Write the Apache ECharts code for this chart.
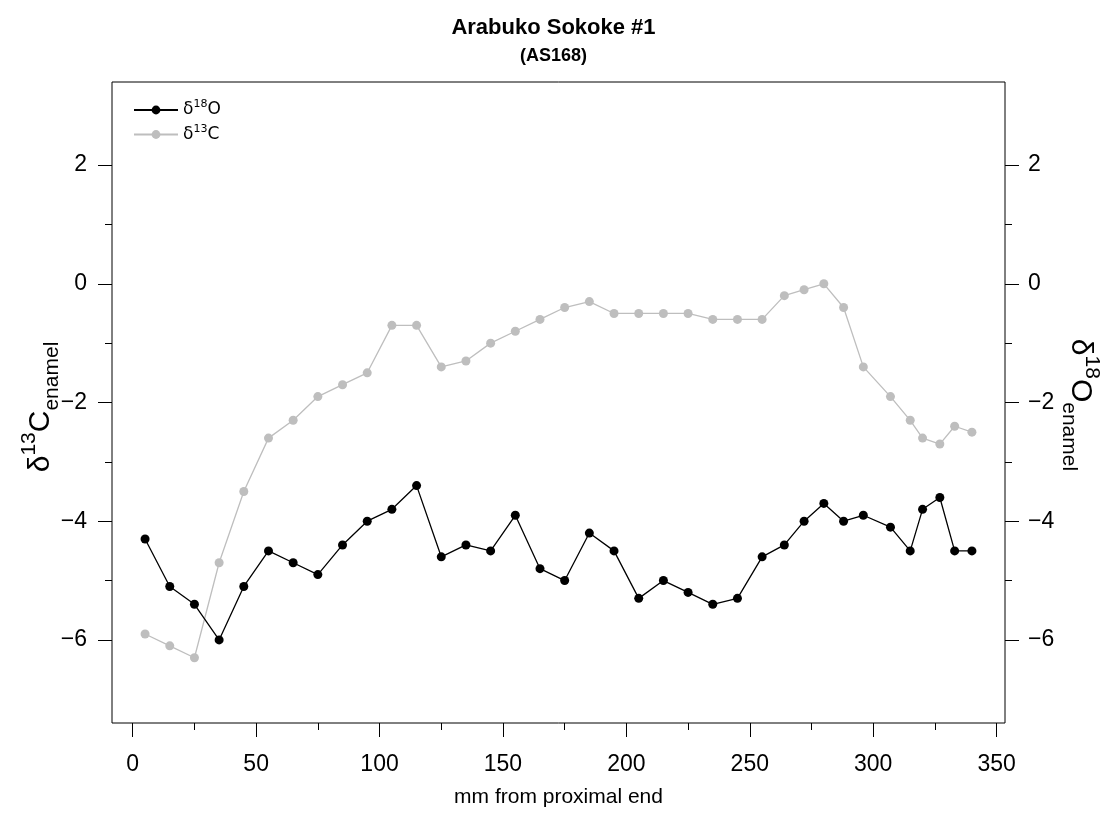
<!DOCTYPE html>
<html>
<head>
<meta charset="utf-8">
<title>Arabuko Sokoke #1 (AS168)</title>
<script src="https://cdn.jsdelivr.net/npm/echarts@6/dist/echarts.min.js"></script>
<style>
  html, body { margin: 0; padding: 0; background: #fff; }
  #chart { width: 1107px; height: 813px; }
</style>
</head>
<body>
<div id="chart"></div>
<script>
// Sampling positions along the tooth (mm from proximal end)
const positionsMm = [5, 15, 25, 35, 45, 55, 65, 75, 85, 95, 105, 115, 125, 135, 145, 155, 165,
  175, 185, 195, 205, 215, 225, 235, 245, 255, 264, 272, 280, 288, 296, 307, 315, 320, 327, 333, 340];

// Oxygen isotope values of the enamel
const d18O = [-4.3, -5.1, -5.4, -6.0, -5.1, -4.5, -4.7, -4.9, -4.4, -4.0, -3.8, -3.4, -4.6, -4.4,
  -4.5, -3.9, -4.8, -5.0, -4.2, -4.5, -5.3, -5.0, -5.2, -5.4, -5.3, -4.6, -4.4, -4.0, -3.7, -4.0,
  -3.9, -4.1, -4.5, -3.8, -3.6, -4.5, -4.5];

// Carbon isotope values of the enamel
const d13C = [-5.9, -6.1, -6.3, -4.7, -3.5, -2.6, -2.3, -1.9, -1.7, -1.5, -0.7, -0.7, -1.4, -1.3,
  -1.0, -0.8, -0.6, -0.4, -0.3, -0.5, -0.5, -0.5, -0.5, -0.6, -0.6, -0.6, -0.2, -0.1, 0.0, -0.4,
  -1.4, -1.9, -2.3, -2.6, -2.7, -2.4, -2.5];

// Axis tick positions
const xMajorTicks = [0, 50, 100, 150, 200, 250, 300, 350];
const xMinorTicks = [25, 75, 125, 175, 225, 275, 325];
const yMajorTicks = [-6, -4, -2, 0, 2];
const yMinorTicks = [-5, -3, -1, 1];

const xRange = [-8.4, 353.4];
const yRange = [-7.4, 3.4];

const FONT = '"Liberation Sans", Arial, Helvetica, sans-serif';
const LEGEND_FONT = '"DejaVu Sans", "Open Sans", sans-serif';
const minus = v => String(v).replace('-', '\u2212');
const pairs = vals => positionsMm.map((x, i) => [x, vals[i]]);

const tickStyle = { color: '#000', width: 1 };

function xAxisDef(ticks, len, withLabels) {
  return {
    type: 'value', position: 'bottom', min: xRange[0], max: xRange[1],
    axisLine: { show: false, onZero: false },
    splitLine: { show: false },
    axisTick: { show: true, length: len, lineStyle: tickStyle, customValues: ticks },
    axisLabel: withLabels
      ? { show: true, customValues: ticks, fontSize: 23, color: '#000', fontFamily: FONT, margin: 30 }
      : { show: false }
  };
}

function yAxisDef(pos, ticks, len, withLabels) {
  return {
    type: 'value', position: pos, min: yRange[0], max: yRange[1],
    axisLine: { show: false, onZero: false },
    splitLine: { show: false },
    axisTick: { show: true, length: len, lineStyle: tickStyle, customValues: ticks },
    axisLabel: withLabels
      ? { show: true, customValues: ticks, fontSize: 23, color: '#000', fontFamily: FONT,
          margin: pos === 'left' ? 25 : 23, formatter: minus }
      : { show: false }
  };
}

const axisTitleRich = {
  m: { fontSize: 30, fontFamily: FONT, color: '#000', verticalAlign: 'middle', lineHeight: 44 },
  sup: { fontSize: 21, fontFamily: FONT, color: '#000', verticalAlign: 'top', lineHeight: 44 },
  sub: { fontSize: 21, fontFamily: FONT, color: '#000', verticalAlign: 'bottom', lineHeight: 44 }
};

const legendRich = {
  g: { fontSize: 17, fontFamily: LEGEND_FONT, color: '#000', verticalAlign: 'middle', lineHeight: 22 },
  s: { fontSize: 11, fontFamily: LEGEND_FONT, color: '#000', verticalAlign: 'top', lineHeight: 22 }
};

const chart = echarts.init(document.getElementById('chart'), null, { renderer: 'canvas' });

chart.setOption({
  animation: false,
  backgroundColor: '#fff',
  title: {
    text: 'Arabuko Sokoke #1',
    subtext: '(AS168)',
    left: 'center',
    top: 12,
    itemGap: 8,
    textStyle: { fontSize: 22, fontWeight: 'bold', color: '#000', fontFamily: FONT },
    subtextStyle: { fontSize: 18, fontWeight: 'bold', color: '#000', fontFamily: FONT }
  },
  grid: {
    left: 112, right: 102, top: 82, bottom: 82,
    show: true, borderColor: '#000', borderWidth: 1, backgroundColor: 'transparent'
  },
  legend: {
    orient: 'vertical',
    left: 128, top: 94,
    itemWidth: 44, itemHeight: 11, itemGap: 5,
    data: ['d18O', 'd13C'],
    formatter: name => name === 'd18O' ? '{g|δ}{s|18}{g|O}' : '{g|δ}{s|13}{g|C}',
    textStyle: { rich: legendRich }
  },
  xAxis: [
    Object.assign(xAxisDef(xMajorTicks, 14, true), {
      name: 'mm from proximal end', nameLocation: 'middle', nameGap: 64,
      nameTextStyle: { fontSize: 21, color: '#000', fontFamily: FONT }
    }),
    xAxisDef(xMinorTicks, 7, false)
  ],
  yAxis: [
    yAxisDef('left', yMajorTicks, 14, true),
    yAxisDef('left', yMinorTicks, 7, false),
    yAxisDef('right', yMajorTicks, 14, true),
    yAxisDef('right', yMinorTicks, 7, false)
  ],
  graphic: [
    {
      type: 'text', x: 41, y: 407, rotation: Math.PI / 2,
      style: { text: '{m|δ}{sup|13}{m|C}{sub|enamel}', rich: axisTitleRich, align: 'center', verticalAlign: 'middle' }
    },
    {
      type: 'text', x: 1080, y: 405, rotation: -Math.PI / 2,
      style: { text: '{m|δ}{sup|18}{m|O}{sub|enamel}', rich: axisTitleRich, align: 'center', verticalAlign: 'middle' }
    }
  ],
  series: [
    {
      name: 'd13C', type: 'line', xAxisIndex: 0, yAxisIndex: 0,
      data: pairs(d13C),
      symbol: 'circle', symbolSize: 9, showSymbol: true,
      itemStyle: { color: '#bebebe' },
      lineStyle: { color: '#bebebe', width: 1.3 },
      z: 2
    },
    {
      name: 'd18O', type: 'line', xAxisIndex: 0, yAxisIndex: 2,
      data: pairs(d18O),
      symbol: 'circle', symbolSize: 9, showSymbol: true,
      itemStyle: { color: '#000' },
      lineStyle: { color: '#000', width: 1.3 },
      z: 3
    }
  ]
});
</script>
</body>
</html>
